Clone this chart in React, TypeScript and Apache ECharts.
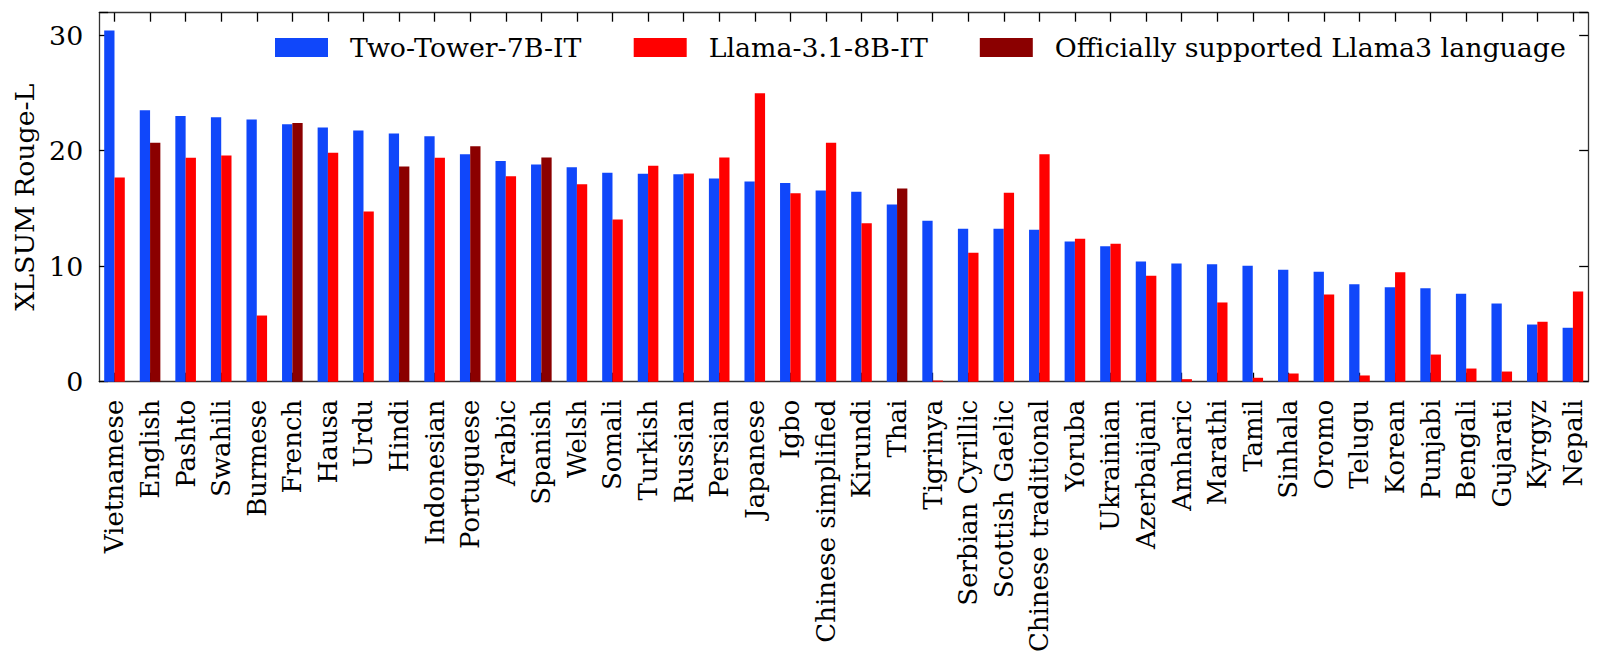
import React, { useEffect, useRef } from "react";
import * as echarts from "echarts";

const categories = ["Vietnamese","English","Pashto","Swahili","Burmese","French","Hausa","Urdu","Hindi","Indonesian","Portuguese","Arabic","Spanish","Welsh","Somali","Turkish","Russian","Persian","Japanese","Igbo","Chinese simplified","Kirundi","Thai","Tigrinya","Serbian Cyrillic","Scottish Gaelic","Chinese traditional","Yoruba","Ukrainian","Azerbaijani","Amharic","Marathi","Tamil","Sinhala","Oromo","Telugu","Korean","Punjabi","Bengali","Gujarati","Kyrgyz","Nepali"];

const twoTower = [30.4,23.5,23.0,22.9,22.7,22.3,22.0,21.75,21.5,21.25,19.7,19.1,18.8,18.57,18.1,18.0,17.97,17.6,17.33,17.2,16.55,16.44,15.34,13.93,13.24,13.24,13.15,12.14,11.73,10.41,10.23,10.17,10.03,9.69,9.51,8.44,8.18,8.1,7.61,6.77,4.95,4.67];

const llama = [17.68,20.68,19.38,19.58,5.73,22.41,19.82,14.74,18.63,19.38,20.39,17.79,19.41,17.1,14.04,18.69,18.03,19.41,24.98,16.32,20.68,13.72,16.73,0.1,11.16,16.35,19.7,12.37,11.94,9.17,0.22,6.86,0.34,0.71,7.55,0.54,9.48,2.35,1.14,0.88,5.19,7.81];

const officialLanguages = ["English","French","Hindi","Portuguese","Spanish","Thai"];

const yTicks = [0, 10, 20, 30];

const seriesNames = ["Two-Tower-7B-IT", "Llama-3.1-8B-IT", "Officially supported Llama3 language"];

const FONT = "DejaVu Serif";
const FS = 26.8;
const FS_X = 26;
const BLUE = "#1047fa";
const RED = "#ff0000";
const DARK = "#8b0000";

export default function App() {
  const ref = useRef<HTMLDivElement>(null);
  useEffect(() => {
    const chart = echarts.init(ref.current!, null, { renderer: "svg" });
    const idx = categories.map((_, i) => i);
    const frame = { show: true, onZero: false, lineStyle: { color: "#333", width: 1.3 } };
    const tickStyle = { color: "#000", width: 1.3 };
    const yTick = { show: true, inside: true, length: 9, lineStyle: tickStyle };
    const catTick = { show: true, inside: true, length: 9, alignWithLabel: true, interval: 0, lineStyle: tickStyle };
    const legendBase = {
      top: 34,
      padding: 0,
      itemWidth: 53,
      itemHeight: 19,
      icon: "rect",
      textStyle: { fontFamily: FONT, fontSize: FS, color: "#000", padding: [0, 0, 0, 17] },
    };
    chart.setOption({
      animation: false,
      backgroundColor: "#fff",
      grid: [
        { left: 99.2, right: 11.8, top: 12.7, bottom: 283.3 },
        { left: 96.7, right: 9.3, top: 12.7, bottom: 283.3 },
      ],
      legend: [
        { ...legendBase, left: 275, data: [seriesNames[0]] },
        { ...legendBase, left: 633.7, data: [seriesNames[1]] },
        { ...legendBase, left: 979.8, data: [seriesNames[2]] },
      ],
      xAxis: [
        {
          type: "value",
          gridIndex: 0,
          min: -0.43,
          max: 41.43,
          position: "bottom",
          axisLine: frame,
          axisTick: { show: false },
          splitLine: { show: false },
          axisLabel: {
            customValues: idx,
            rotate: 90,
            margin: 18,
            fontFamily: FONT,
            fontSize: FS_X,
            color: "#000",
            formatter: (v: number) => categories[Math.round(v)],
          },
        },
        {
          type: "value",
          gridIndex: 0,
          min: -0.43,
          max: 41.43,
          position: "top",
          axisLine: frame,
          axisTick: { show: false },
          splitLine: { show: false },
          axisLabel: { show: false },
        },
        {
          type: "category",
          gridIndex: 1,
          data: categories,
          position: "bottom",
          boundaryGap: true,
          axisLine: { show: false },
          axisTick: catTick,
          axisLabel: { show: false },
          splitLine: { show: false },
        },
        {
          type: "category",
          gridIndex: 1,
          data: categories,
          position: "top",
          boundaryGap: true,
          axisLine: { show: false },
          axisTick: catTick,
          axisLabel: { show: false },
          splitLine: { show: false },
        },
      ],
      yAxis: [
        {
          type: "value",
          gridIndex: 0,
          min: 0,
          max: 31.95,
          interval: 10,
          position: "left",
          axisLine: frame,
          axisTick: yTick,
          splitLine: { show: false },
          axisLabel: { customValues: yTicks, margin: 16, fontFamily: FONT, fontSize: FS, color: "#000" },
          name: "XLSUM Rouge-L",
          nameLocation: "middle",
          nameRotate: 90,
          nameGap: 61,
          nameTextStyle: { fontFamily: FONT, fontSize: FS, color: "#000" },
        },
        {
          type: "value",
          gridIndex: 0,
          min: 0,
          max: 31.95,
          interval: 10,
          position: "right",
          axisLine: frame,
          axisTick: yTick,
          splitLine: { show: false },
          axisLabel: { show: false },
        },
        {
          type: "value",
          gridIndex: 1,
          show: false,
        },
      ],
      series: [
        {
          name: seriesNames[0],
          type: "bar",
          xAxisIndex: 0,
          yAxisIndex: 0,
          barWidth: 10.3,
          barGap: "0%",
          itemStyle: { color: BLUE },
          data: twoTower.map((v, i) => [i, v]),
        },
        {
          name: seriesNames[1],
          type: "bar",
          xAxisIndex: 0,
          yAxisIndex: 0,
          stack: "llama",
          barWidth: 10.3,
          barGap: "0%",
          itemStyle: { color: RED },
          data: llama.map((v, i) =>
            officialLanguages.includes(categories[i])
              ? { value: [i, v], itemStyle: { color: DARK } }
              : { value: [i, v] }
          ),
        },
        {
          name: seriesNames[2],
          type: "bar",
          xAxisIndex: 0,
          yAxisIndex: 0,
          stack: "llama",
          barWidth: 10.3,
          barGap: "0%",
          itemStyle: { color: DARK },
          data: [],
        },
      ],
    });
    return () => chart.dispose();
  }, []);
  return (
    <div
      ref={ref}
      style={{ position: "fixed", left: 0, top: 0, width: 1600, height: 665, background: "#fff" }}
    />
  );
}
